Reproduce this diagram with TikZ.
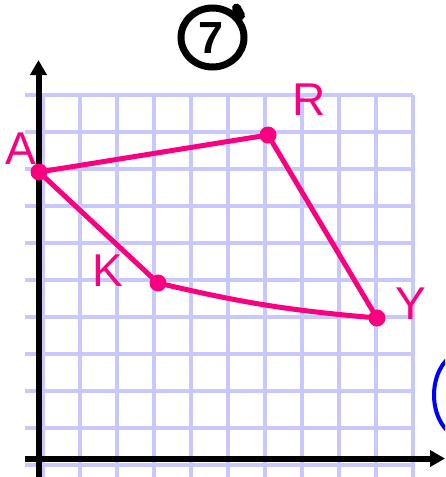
\documentclass[tikz,border=0pt]{standalone}
\usepackage{fontspec}
\setmainfont{Liberation Sans}
\usetikzlibrary{arrows.meta,shapes.geometric}
\definecolor{pinkpen}{RGB}{250,0,128}
\definecolor{gridblue}{RGB}{200,200,255}
\definecolor{bluepen}{RGB}{0,0,255}
\tikzset{
  gridline/.style={draw=gridblue,line width=4.5pt},
  axisline/.style={draw=black,line width=6pt,-{Triangle[length=15pt,width=16pt]}},
  vertex/.style={circle,fill=pinkpen,inner sep=0pt,minimum size=17pt},
  edgeline/.style={draw=pinkpen,line width=5pt,line cap=round,line join=round},
  vlabel/.style={text=pinkpen,font=\fontsize{46}{46}\selectfont,inner sep=0pt},
}
\begin{document}
\begin{tikzpicture}[x=1pt,y=-1pt]
\useasboundingbox (0,0) rectangle (445,477);
\clip (0,0) rectangle (445,477);
% grid
\foreach \k in {0,...,10}{
  \draw[gridline] ({43+37*\k},95) -- ({43+37*\k},480);
  \draw[gridline] (25,{95+37*\k}) -- (413,{95+37*\k});
}
% axes
\coordinate (yb) at (38.5,480);
\coordinate (yt) at (38.5,60);
\coordinate (xl) at (25,458.5);
\coordinate (xr) at (445,458.5);
\draw[axisline] (yb) -- (yt);
\draw[axisline] (xl) -- (xr);
% title
\draw[line width=7pt] (212.5,37.5) ellipse [x radius=31.5,y radius=29.5];
\node[font=\bfseries\fontsize{45}{45}\selectfont,inner sep=0pt] (seven) at (211,38.5) {7};
\draw[line width=9pt,line cap=round] (236.5,8) -- (240.5,15.5);
% vertices
\node[vertex] (A) at (39,172) {};
\node[vertex] (R) at (268,135) {};
\node[vertex] (K) at (158,283) {};
\node[vertex] (Y) at (377,318) {};
% edges
\draw[edgeline] (A) -- (R);
\draw[edgeline] (R) -- (Y);
\draw[edgeline] (Y) to[bend left=4] (K);
\draw[edgeline] (K) -- (A);
% labels
\node[vlabel] (lA) at (21,149) {A};
\node[vlabel] (lR) at (309,100) {R};
\node[vlabel] (lK) at (108,271) {K};
\node[vlabel] (lY) at (411,304) {Y};
% blue arc (next problem circle)
\draw[bluepen,line width=4pt] (466,395) ellipse [x radius=32,y radius=44];
\end{tikzpicture}
\end{document}
